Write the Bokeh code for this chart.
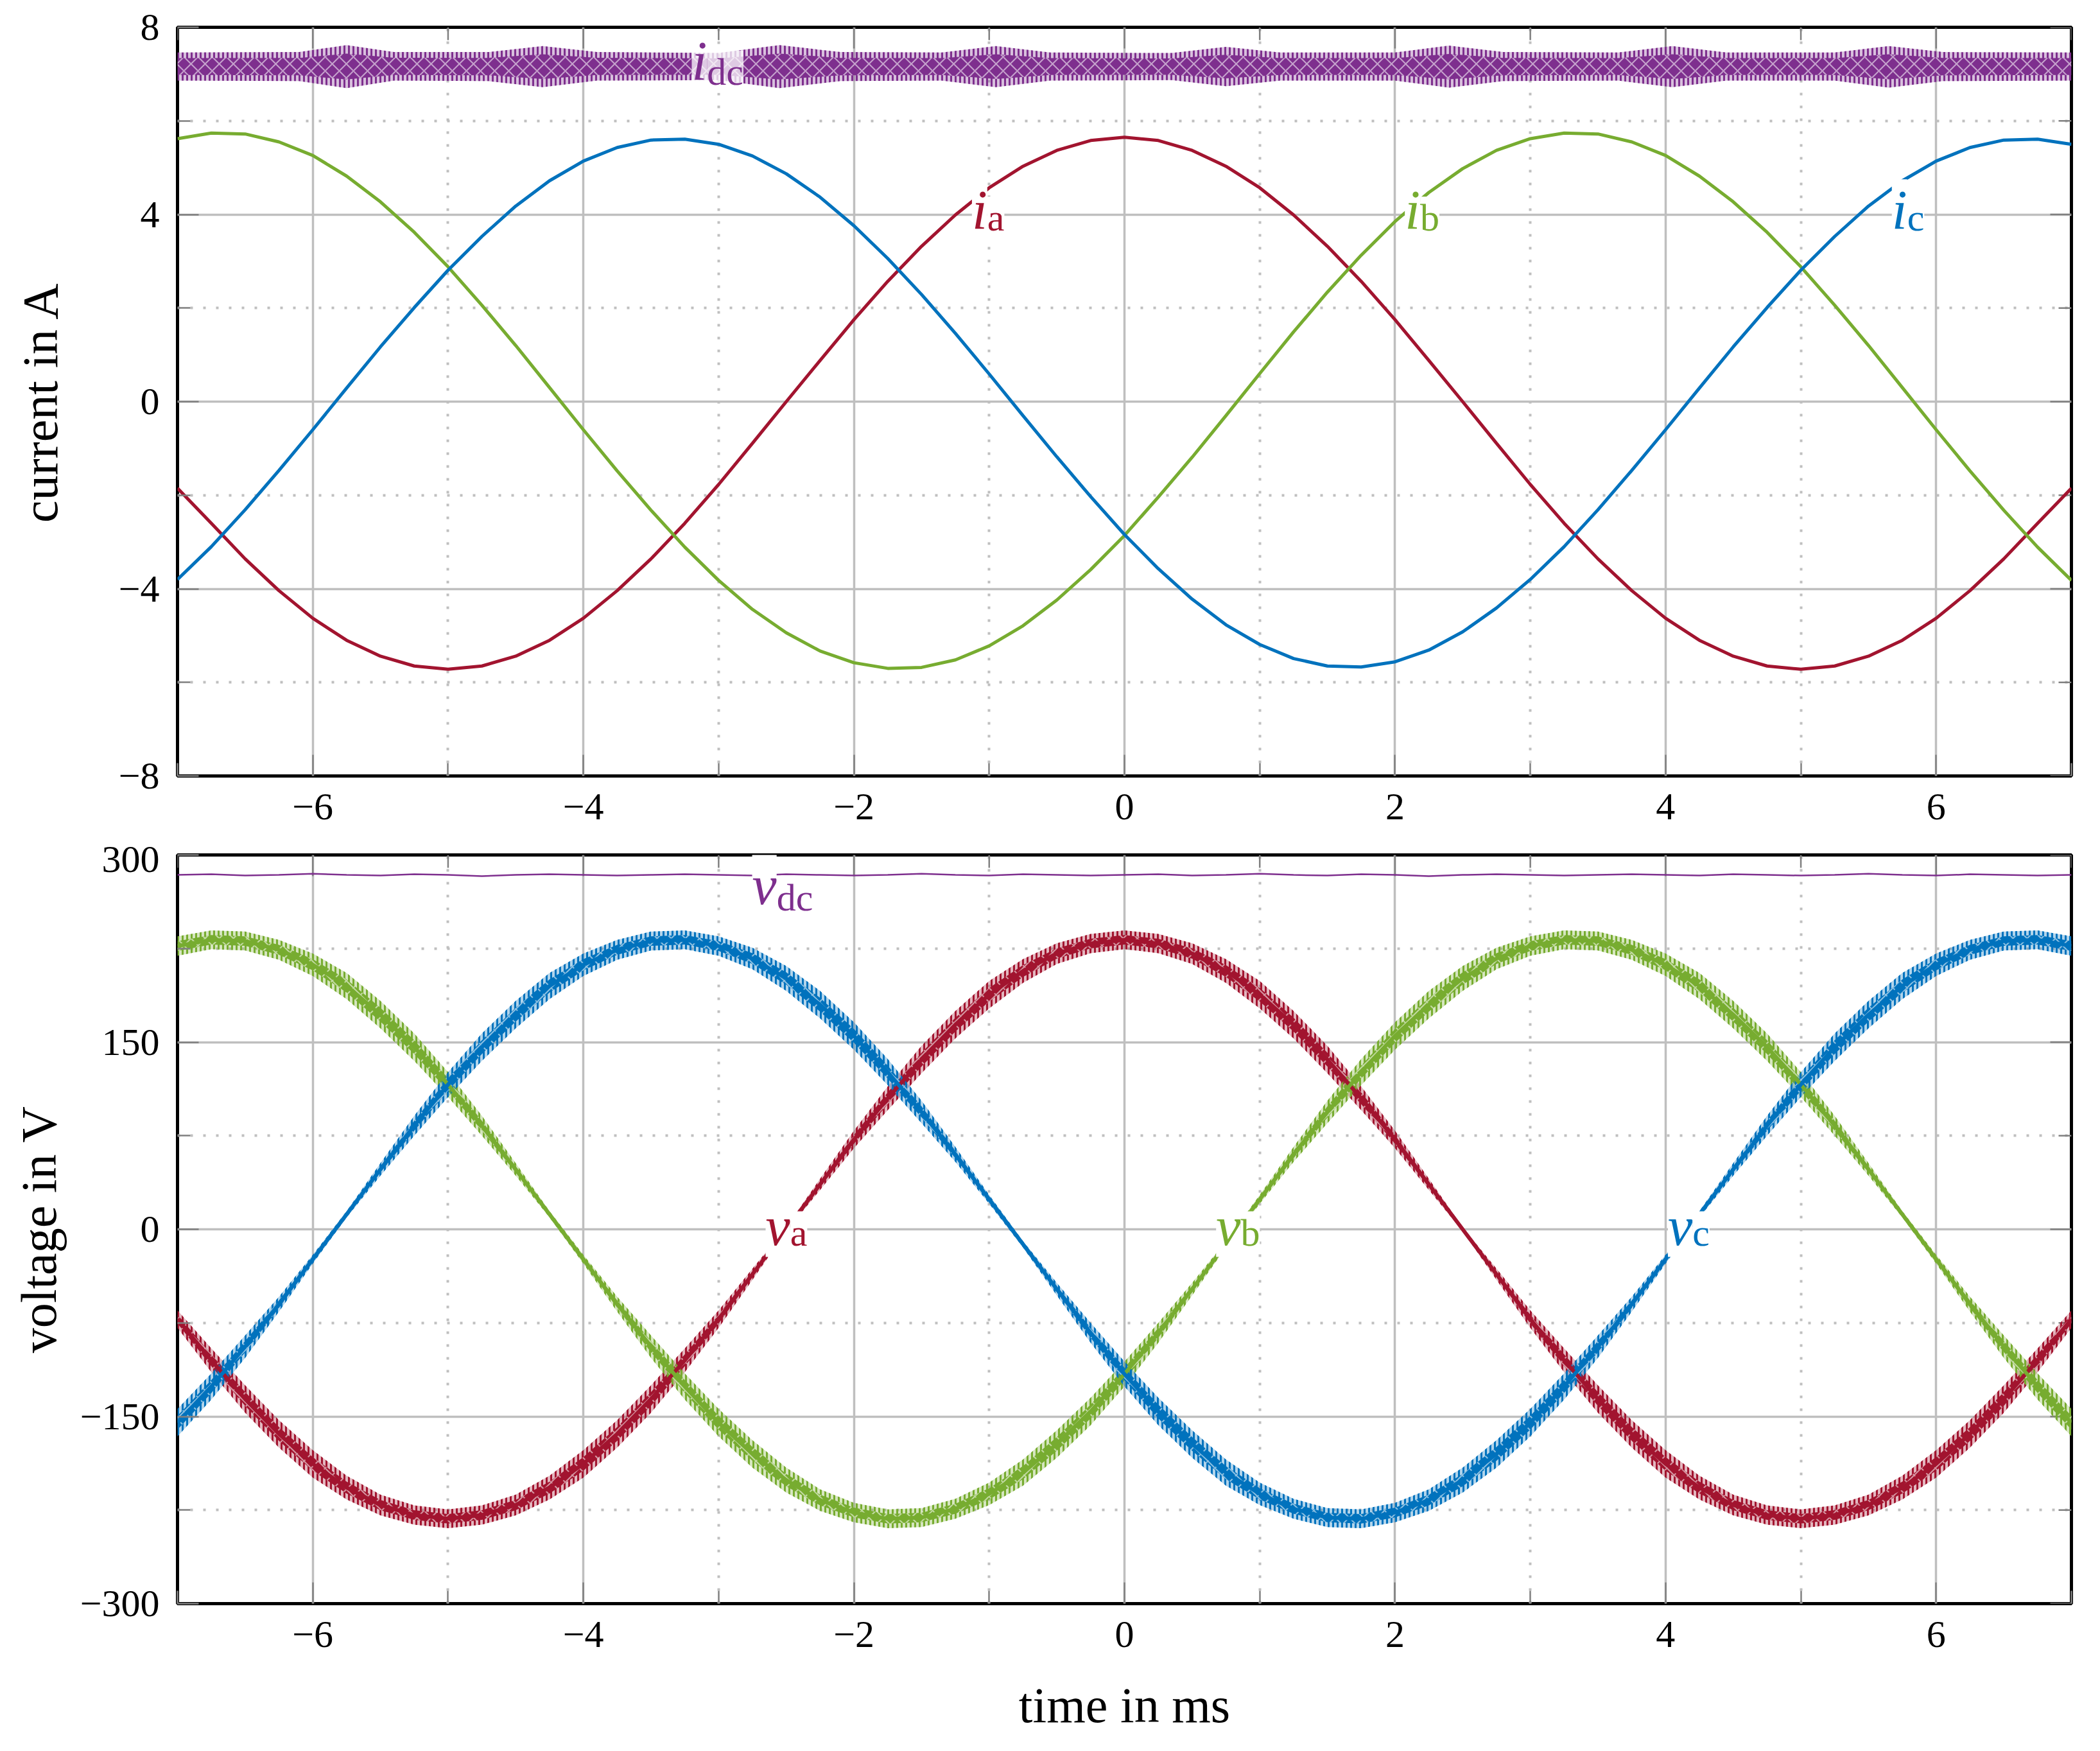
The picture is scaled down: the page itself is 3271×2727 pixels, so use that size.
from bokeh.plotting import figure
from bokeh.layouts import column
from bokeh.models import FixedTicker, Range1d, Label
from bokeh.embed import file_html
from bokeh.resources import INLINE

# ---------------- data ----------------
t = [-7.0, -6.75, -6.5, -6.25, -6.0, -5.75, -5.5, -5.25, -5.0, -4.75, -4.5, -4.25, -4.0, -3.75,
     -3.5, -3.25, -3.0, -2.75, -2.5, -2.25, -2.0, -1.75, -1.5, -1.25, -1.0, -0.75, -0.5, -0.25,
     0.0, 0.25, 0.5, 0.75, 1.0, 1.25, 1.5, 1.75, 2.0, 2.25, 2.5, 2.75, 3.0, 3.25, 3.5, 3.75,
     4.0, 4.25, 4.5, 4.75, 5.0, 5.25, 5.5, 5.75, 6.0, 6.25, 6.5, 6.75, 7.0]

i_a = [-1.85, -2.6, -3.36, -4.04, -4.63, -5.1, -5.44, -5.65, -5.72, -5.65, -5.44, -5.1, -4.63, -4.04,
       -3.36, -2.6, -1.77, -0.89, 0.0, 0.88, 1.75, 2.57, 3.32, 3.99, 4.57, 5.03, 5.37, 5.58,
       5.65, 5.58, 5.37, 5.03, 4.57, 3.99, 3.32, 2.57, 1.75, 0.88, 0.0, -0.89, -1.77, -2.6,
       -3.36, -4.04, -4.63, -5.1, -5.44, -5.65, -5.72, -5.65, -5.44, -5.1, -4.63, -4.04, -3.36, -2.6, -1.85]
i_b = [5.62, 5.74, 5.72, 5.55, 5.26, 4.82, 4.27, 3.62, 2.88, 2.06, 1.2, 0.3, -0.6, -1.48,
       -2.32, -3.11, -3.82, -4.44, -4.94, -5.33, -5.58, -5.7, -5.68, -5.52, -5.22, -4.79, -4.24, -3.59,
       -2.86, -2.04, -1.19, -0.3, 0.6, 1.49, 2.34, 3.13, 3.85, 4.47, 4.98, 5.37, 5.62, 5.74,
       5.72, 5.55, 5.26, 4.82, 4.27, 3.62, 2.88, 2.06, 1.2, 0.3, -0.6, -1.48, -2.32, -3.11, -3.82]
i_c = [-3.8, -3.1, -2.31, -1.47, -0.6, 0.29, 1.17, 2.01, 2.81, 3.53, 4.18, 4.72, 5.14, 5.43,
       5.59, 5.61, 5.5, 5.25, 4.87, 4.37, 3.76, 3.06, 2.29, 1.46, 0.59, -0.3, -1.18, -2.03,
       -2.84, -3.57, -4.22, -4.77, -5.19, -5.49, -5.65, -5.67, -5.56, -5.31, -4.92, -4.41, -3.8, -3.1,
       -2.31, -1.47, -0.6, 0.29, 1.17, 2.01, 2.81, 3.53, 4.18, 4.72, 5.14, 5.43, 5.59, 5.61, 5.5]

t_dc = [-7.0, -6.1, -5.75, -5.4, -4.7, -4.3, -3.9, -3.0, -2.55, -2.1, -1.35, -0.95, -0.55,
        0.35, 0.75, 1.15, 2.0, 2.4, 2.8, 3.65, 4.05, 4.45, 5.25, 5.65, 6.05, 7.0]
i_dc_hi = [7.46, 7.47, 7.62, 7.47, 7.47, 7.60, 7.47, 7.45, 7.62, 7.47, 7.46, 7.60, 7.46,
           7.45, 7.58, 7.46, 7.46, 7.61, 7.47, 7.46, 7.60, 7.46, 7.46, 7.60, 7.47, 7.46]
i_dc_lo = [6.86, 6.85, 6.70, 6.86, 6.85, 6.72, 6.86, 6.87, 6.70, 6.85, 6.86, 6.72, 6.86,
           6.87, 6.74, 6.86, 6.86, 6.71, 6.85, 6.86, 6.72, 6.86, 6.86, 6.71, 6.85, 6.86]

v_a = [-72, -105, -136, -164, -188, -207, -221, -229, -232, -229, -221, -207, -188, -164,
       -136, -105, -72, -36, 0, 36, 72, 105, 136, 164, 188, 207, 221, 229,
       232, 229, 221, 207, 188, 164, 136, 105, 72, 36, 0, -36, -72, -105,
       -136, -164, -188, -207, -221, -229, -232, -229, -221, -207, -188, -164, -136, -105, -72]
v_b = [227, 232, 231, 224, 212, 195, 172, 146, 116, 83, 48, 12, -24, -60,
       -94, -126, -155, -180, -201, -217, -227, -232, -231, -224, -212, -195, -172, -146,
       -116, -83, -48, -12, 24, 60, 94, 126, 155, 180, 201, 217, 227, 232,
       231, 224, 212, 195, 172, 146, 116, 83, 48, 12, -24, -60, -94, -126, -155]
v_c = [-155, -126, -94, -60, -24, 12, 48, 83, 116, 146, 172, 195, 212, 224,
       231, 232, 227, 217, 201, 180, 155, 126, 94, 60, 24, -12, -48, -83,
       -116, -146, -172, -195, -212, -224, -231, -232, -227, -217, -201, -180, -155, -126,
       -94, -60, -24, 12, 48, 83, 116, 146, 172, 195, 212, 224, 231, 232, 227]
# switching-ripple half band of the phase voltages (V)
r_va = [7, 9.5, 11, 11, 11, 9.5, 8.3, 7.7, 7.5, 7.7, 8.3, 9.5, 11, 11,
        11, 9.5, 7, 4.5, 1.5, 4.5, 7, 9.5, 11, 11, 11, 9.5, 8.3, 7.7,
        7.5, 7.7, 8.3, 9.5, 11, 11, 11, 9.5, 7, 4.5, 1.5, 4.5, 7, 9.5,
        11, 11, 11, 9.5, 8.3, 7.7, 7.5, 7.7, 8.3, 9.5, 11, 11, 11, 9.5, 7]
r_vb = [7.8, 7.5, 7.6, 8, 9, 10.5, 11, 11, 10, 8, 5, 2.5, 3.5, 6,
        9, 10.5, 11, 11, 10, 8.6, 7.8, 7.5, 7.6, 8, 9, 10.5, 11, 11,
        10, 8, 5, 2.5, 3.5, 6, 9, 10.5, 11, 11, 10, 8.6, 7.8, 7.5,
        7.6, 8, 9, 10.5, 11, 11, 10, 8, 5, 2.5, 3.5, 6, 9, 10.5, 11]
r_vc = [11, 10.5, 9, 6, 3.5, 2.5, 5, 8, 10, 11, 11, 10.5, 9, 8,
        7.6, 7.5, 7.8, 8.6, 10, 11, 11, 10.5, 9, 6, 3.5, 2.5, 5, 8,
        10, 11, 11, 10.5, 9, 8, 7.6, 7.5, 7.8, 8.6, 10, 11, 11, 10.5,
        9, 6, 3.5, 2.5, 5, 8, 10, 11, 11, 10.5, 9, 8, 7.6, 7.5, 7.8]
v_dc = [284, 284.5, 283.5, 284, 285, 284, 283.5, 284.5, 284, 283, 284, 284.5, 284, 283.5,
        284, 284.5, 284, 283.5, 284.5, 284, 283.5, 284, 285, 284, 283.5, 284.5, 284, 283.5,
        284, 284.5, 283.5, 284, 285, 284, 283.5, 284.5, 284, 283, 284, 284.5, 284, 283.5,
        284, 284.5, 284, 283.5, 284.5, 284, 283.5, 284, 285, 284, 283.5, 284.5, 284, 283.5, 284]

x_ticks = [-6, -4, -2, 0, 2, 4, 6]
x_minor = [-7, -5, -3, -1, 1, 3, 5, 7]
x_tick_labels = ["\u22126", "\u22124", "\u22122", "0", "2", "4", "6"]
i_ticks = [-8, -4, 0, 4, 8]
i_minor = [-6, -2, 2, 6]
i_tick_labels = ["\u22128", "\u22124", "0", "4", "8"]
v_ticks = [-300, -150, 0, 150, 300]
v_minor = [-225, -75, 75, 225]
v_tick_labels = ["\u2212300", "\u2212150", "0", "150", "300"]

# series labels: subscript and anchor (centre of the label)
i_lab_sub = ["dc", "a", "b", "c"]
i_lab_x = [-3.0, -1.0, 2.2, 5.8]
i_lab_y = [7.2, 4.12, 4.12, 4.12]
v_lab_sub = ["dc", "a", "b", "c"]
v_lab_x = [-2.5, -2.5, 0.83, 4.17]
v_lab_y = [271, 0.5, 0.5, 0.5]

RED, GREEN, BLUE, PURPLE = "#A2142F", "#77AC30", "#0072BD", "#7E2F8E"
FONT = "Liberation Serif"
FW, FH = 2950, 1166
TICK_MAJ, TICK_MIN = 33, 20
DX = 14.0 / FW          # ms per screen pixel


def style_axis(ax):
    ax.axis_line_color = None
    ax.major_tick_in = TICK_MAJ
    ax.major_tick_out = 0
    ax.minor_tick_in = TICK_MIN
    ax.minor_tick_out = 0
    ax.major_tick_line_color = "#808080"
    ax.minor_tick_line_color = "#808080"
    ax.major_tick_line_width = 2.5
    ax.minor_tick_line_width = 2.5
    ax.major_label_text_font = FONT
    ax.major_label_text_color = "black"
    ax.major_label_text_font_size = "60px"
    ax.major_label_standoff = 28
    ax.axis_label_text_font = FONT
    ax.axis_label_text_font_size = "78px"
    ax.axis_label_text_font_style = "normal"
    ax.axis_label_text_color = "black"


def make_fig(y_range, yt, ym, ylabs, ylabel, b_top, b_bottom, ylabel_standoff, xlabel=None):
    p = figure(frame_width=FW, frame_height=FH, x_range=Range1d(-7, 7),
               y_range=Range1d(*y_range), output_backend="svg", toolbar_location=None,
               min_border_left=276, min_border_right=28, min_border_top=b_top,
               min_border_bottom=b_bottom, background_fill_color="white",
               border_fill_color="white")
    p.outline_line_color = "black"
    p.outline_line_width = 5
    xtick = FixedTicker(ticks=x_ticks, minor_ticks=x_minor)
    ytick = FixedTicker(ticks=yt, minor_ticks=ym)
    p.xaxis.ticker = xtick
    p.yaxis.ticker = ytick
    p.xaxis.major_label_overrides = {float(k): s for k, s in zip(x_ticks, x_tick_labels)}
    p.yaxis.major_label_overrides = {float(k): s for k, s in zip(yt, ylabs)}
    for ax in p.xaxis + p.yaxis:
        style_axis(ax)
    p.yaxis.axis_label = ylabel
    p.yaxis.axis_label_standoff = ylabel_standoff
    if xlabel:
        p.xaxis.axis_label = xlabel
        p.xaxis.axis_label_standoff = 44
    for g in (p.xgrid[0], p.ygrid[0]):
        g.grid_line_color = "#bfbfbf"
        g.grid_line_width = 3.5
        g.minor_grid_line_color = "#bfbfbf"
        g.minor_grid_line_width = 4
        g.minor_grid_line_dash = "4 16"
    # mirrored tick marks on the top and right frame edges
    y0, y1 = y_range
    dy = (y1 - y0) / FH
    tc = "#808080"
    p.segment(x0=x_ticks, y0=[y1] * len(x_ticks), x1=x_ticks,
              y1=[y1 - TICK_MAJ * dy] * len(x_ticks), line_color=tc, line_width=2.5)
    p.segment(x0=x_minor, y0=[y1] * len(x_minor), x1=x_minor,
              y1=[y1 - TICK_MIN * dy] * len(x_minor), line_color=tc, line_width=2.5)
    p.segment(x0=[7] * len(yt), y0=yt, x1=[7 - TICK_MAJ * DX] * len(yt), y1=yt,
              line_color=tc, line_width=2.5)
    p.segment(x0=[7] * len(ym), y0=ym, x1=[7 - TICK_MIN * DX] * len(ym), y1=ym,
              line_color=tc, line_width=2.5)
    return p


def ripple_band(p, x, y, r, color, inner):
    lo = [a - b for a, b in zip(y, r)]
    hi = [a + b for a, b in zip(y, r)]
    # switching ripple: dense vertical strokes across the whole band
    p.varea(x=x, y1=lo, y2=hi, fill_color=color, fill_alpha=0.3,
            hatch_pattern="|", hatch_color=color, hatch_alpha=1.0,
            hatch_scale=7, hatch_weight=3)
    # dark chain of "diamonds" in the middle of the band
    lo2 = [a - b * inner for a, b in zip(y, r)]
    hi2 = [a + b * inner for a, b in zip(y, r)]
    p.varea(x=x, y1=lo2, y2=hi2, fill_color=color, fill_alpha=1.0,
            hatch_pattern="x", hatch_color="white", hatch_alpha=0.55,
            hatch_scale=22, hatch_weight=2)


def label(p, x, y, dy, sym, sub, color, xo, main_dy, sub_dy, bg_alpha):
    # offsets are given in screen pixels (positive = downwards) and turned into data units
    p.add_layout(Label(x=x + xo * DX, y=y - main_dy * dy, text=sym,
                       text_font=FONT, text_font_style="italic", text_font_size="86px",
                       text_color=color, text_align="right", text_baseline="alphabetic",
                       background_fill_color="white", background_fill_alpha=bg_alpha))
    p.add_layout(Label(x=x + xo * DX, y=y - sub_dy * dy, text=sub,
                       text_font=FONT, text_font_style="normal", text_font_size="60px",
                       text_color=color, text_align="left", text_baseline="alphabetic",
                       background_fill_color="white", background_fill_alpha=bg_alpha))


# ---------------- current plot ----------------
p1 = make_fig((-8, 8), i_ticks, i_minor, i_tick_labels, "current in A", 42, 110, 76)
p1.line(t, i_a, line_color=RED, line_width=5)
p1.line(t, i_b, line_color=GREEN, line_width=5)
p1.line(t, i_c, line_color=BLUE, line_width=5)
i_dc_mid = [(a + b) / 2 for a, b in zip(i_dc_lo, i_dc_hi)]
i_dc_r = [(b - a) / 2 for a, b in zip(i_dc_lo, i_dc_hi)]
ripple_band(p1, t_dc, i_dc_mid, i_dc_r, PURPLE, 0.6)
dy1 = 16.0 / FH
i_cols = [PURPLE, RED, GREEN, BLUE]
for k in range(4):
    if i_lab_sub[k] == "dc":
        label(p1, i_lab_x[k], i_lab_y[k], dy1, "i", i_lab_sub[k], i_cols[k], -18, -6, 11, 0.75)
    else:
        label(p1, i_lab_x[k], i_lab_y[k], dy1, "i", i_lab_sub[k], i_cols[k], -3, 2, 14, 1.0)

# ---------------- voltage plot ----------------
p2 = make_fig((-300, 300), v_ticks, v_minor, v_tick_labels, "voltage in V", 13, 200, 18,
              xlabel="time in ms")
ripple_band(p2, t, v_a, r_va, RED, 0.5)
ripple_band(p2, t, v_b, r_vb, GREEN, 0.5)
ripple_band(p2, t, v_c, r_vc, BLUE, 0.5)
p2.line(t, v_a, line_color=RED, line_width=6)
p2.line(t, v_b, line_color=GREEN, line_width=6)
p2.line(t, v_c, line_color=BLUE, line_width=6)
p2.line(t, v_dc, line_color=PURPLE, line_width=2.5)
dy2 = 600.0 / FH
v_cols = [PURPLE, RED, GREEN, BLUE]
for k in range(4):
    if v_lab_sub[k] == "dc":
        label(p2, v_lab_x[k], v_lab_y[k], dy2, "v", v_lab_sub[k], v_cols[k], -15, -9, 10, 1.0)
    else:
        label(p2, v_lab_x[k], v_lab_y[k], dy2, "v", v_lab_sub[k], v_cols[k], 6, -4, 6, 1.0)

layout = column(p1, p2, spacing=0)
open("out.html", "w").write(file_html(layout, INLINE))
